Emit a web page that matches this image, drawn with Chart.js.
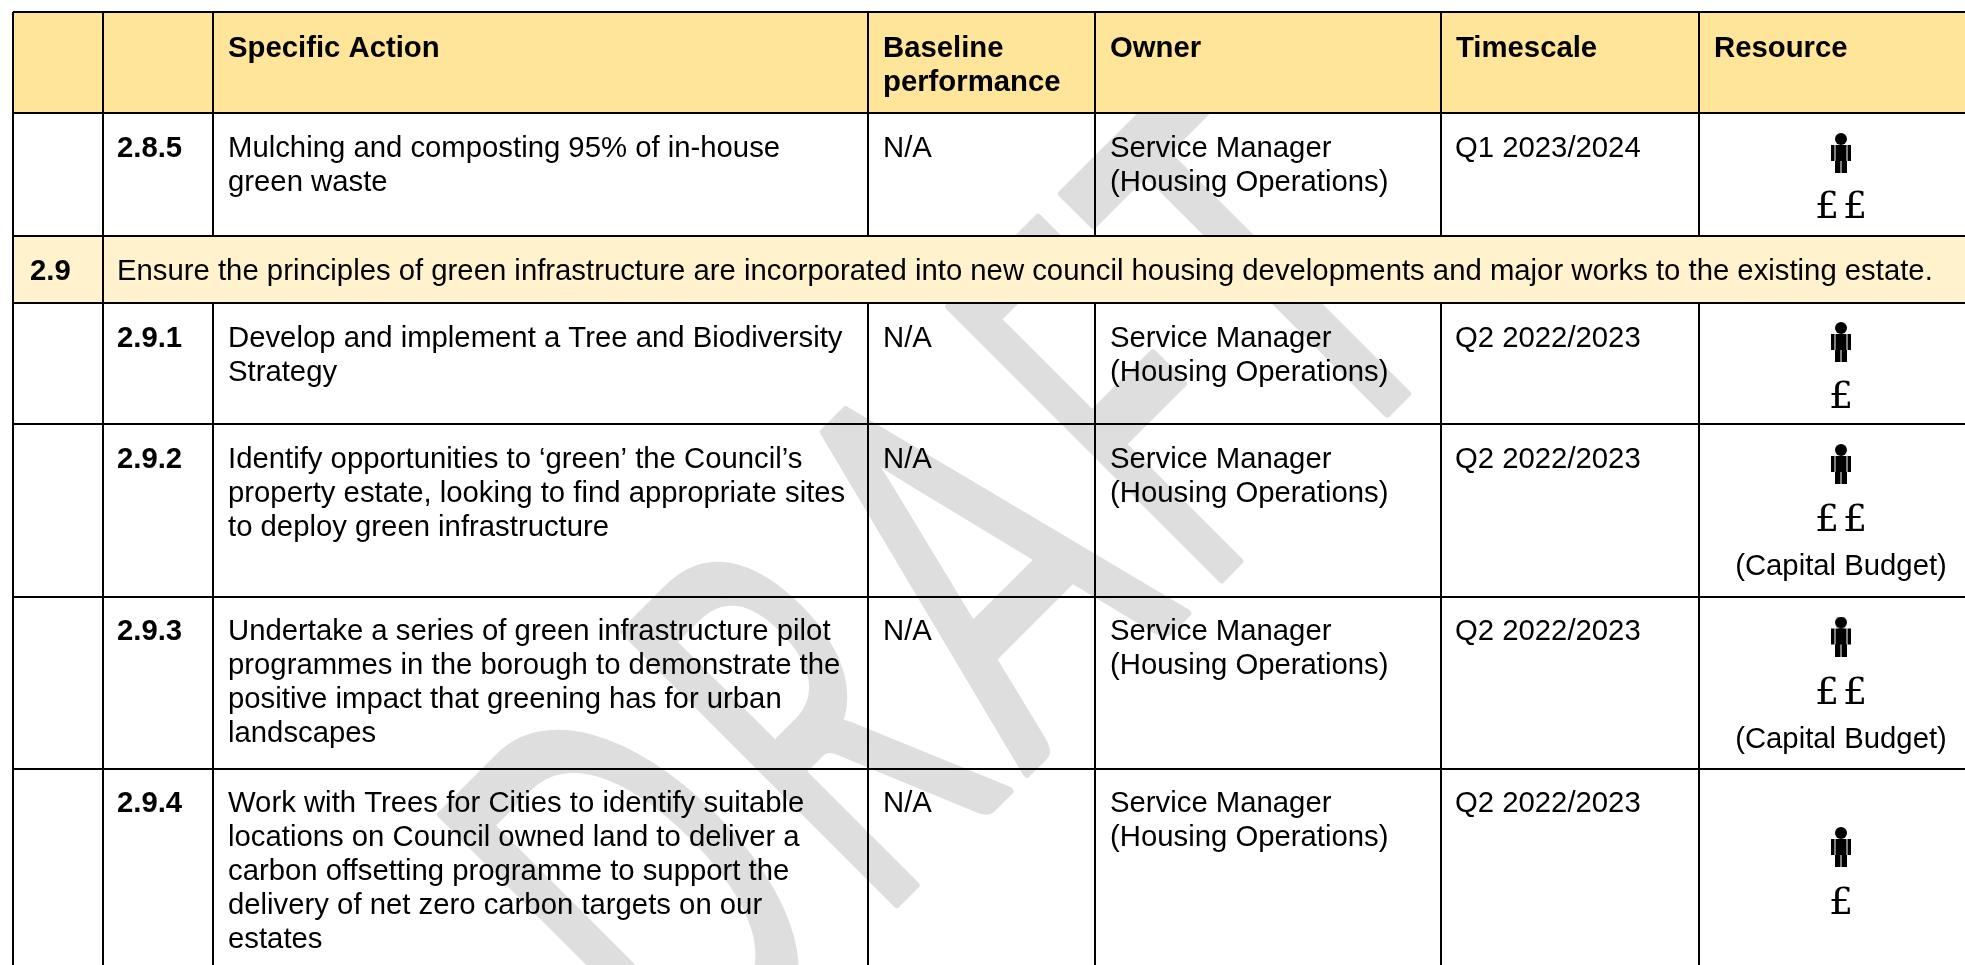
<!DOCTYPE html>
<html>
<head>
<meta charset="utf-8">
<style>
  body { margin: 0; background: #fff; }
  canvas { display: block; }
</style>
<script src="https://cdn.jsdelivr.net/npm/chart.js@4"></script>
</head>
<body>
<canvas id="myChart" width="1965" height="965"></canvas>
<script>
// table grid
const colEdges = [13, 103, 213, 868, 1095, 1441, 1699];
const rowEdges = [12, 113, 236, 303, 424, 597, 769];
const sectionRow = [236, 303];

// cells
const headers = ["Specific Action", "Baseline\nperformance", "Owner", "Timescale", "Resource"];
const headerCols = [2, 3, 4, 5, 6];
const sectionNo = "2.9";
const sectionText = "Ensure the principles of green infrastructure are incorporated into new council housing developments and major works to the existing estate.";
const actionNos = ["2.8.5", "2.9.1", "2.9.2", "2.9.3", "2.9.4"];
const actionTextY = [157, 347, 468, 640, 812];
const actions = [
  "Mulching and composting 95% of in-house\ngreen waste",
  "Develop and implement a Tree and Biodiversity\nStrategy",
  "Identify opportunities to ‘green’ the Council’s\nproperty estate, looking to find appropriate sites\nto deploy green infrastructure",
  "Undertake a series of green infrastructure pilot\nprogrammes in the borough to demonstrate the\npositive impact that greening has for urban\nlandscapes",
  "Work with Trees for Cities to identify suitable\nlocations on Council owned land to deliver a\ncarbon offsetting programme to support the\ndelivery of net zero carbon targets on our\nestates",
];
const baseline = ["N/A", "N/A", "N/A", "N/A", "N/A"];
const owners = Array(5).fill("Service Manager\n(Housing Operations)");
const timescales = ["Q1 2023/2024", "Q2 2022/2023", "Q2 2022/2023", "Q2 2022/2023", "Q2 2022/2023"];

// resource column
const resourceX = 1841;
const personY = [153, 342, 464, 636.5, 847];
const poundY = [218, 408, 531, 703.5, 914];
const poundCount = [2, 1, 2, 2, 1];
const budgetY = [null, null, 575, 747.5, null];
const budgetText = "(Capital Budget)";

// watermark letters, placed along the diagonal from the foot of the F
const markLetters = ["D", "R", "A", "F", "T"];
const markCentres = [-635, -392, -171, 52, 235];
const markWidths = [205, 173, 240, 142, 190];
const markOrigin = { x: 1232, y: 574 };

const bodyFont = '29.3px "Liberation Sans"';
const boldFont = 'bold 29.3px "Liberation Sans"';

function makePerson() {
  const c = document.createElement("canvas");
  c.width = 20;
  c.height = 40;
  const g = c.getContext("2d");
  g.fillStyle = "#000";
  g.beginPath();
  g.arc(10, 6, 6, 0, Math.PI * 2);
  g.fill();
  g.fillRect(0, 12, 3.5, 16);
  g.fillRect(4.5, 12, 11, 16);
  g.fillRect(16.5, 12, 3.5, 16);
  g.fillRect(4, 28, 5.5, 12);
  g.fillRect(10.5, 28, 5.5, 12);
  return c;
}

function band(y0, y1, color) {
  return {
    type: "line",
    order: 2,
    data: [{ x: colEdges[0], y: y0 }, { x: 1965, y: y0 }],
    borderWidth: 0,
    pointRadius: 0,
    backgroundColor: color,
    fill: { value: y1 },
  };
}

function rule(points) {
  return {
    type: "line",
    order: 1,
    data: points,
    borderColor: "#000",
    borderWidth: 2,
    pointRadius: 0,
    fill: false,
  };
}

const datasets = [
  band(rowEdges[0], rowEdges[1], "#FFE599"),
  band(sectionRow[0], sectionRow[1], "#FFF2CC"),
];
rowEdges.forEach((y) => datasets.push(rule([{ x: colEdges[0], y: y }, { x: 1965, y: y }])));
colEdges.forEach((x, i) => {
  if (i < 2) {
    datasets.push(rule([{ x: x, y: rowEdges[0] }, { x: x, y: 965 }]));
  } else {
    datasets.push(rule([{ x: x, y: rowEdges[0] }, { x: x, y: sectionRow[0] }]));
    datasets.push(rule([{ x: x, y: sectionRow[1] }, { x: x, y: 965 }]));
  }
});
datasets.push({
  type: "scatter",
  order: 0,
  data: personY.map((y) => ({ x: resourceX, y: y })),
  pointStyle: makePerson(),
  pointRadius: 10,
  showLine: false,
});

function lines(ctx, text, x, y) {
  text.split("\n").forEach((t, i) => ctx.fillText(t, x, y + i * 34));
}

const watermarkPlugin = {
  id: "watermark",
  beforeDatasetsDraw(chart) {
    const { ctx, scales } = chart;
    ctx.save();
    ctx.translate(scales.x.getPixelForValue(markOrigin.x), scales.y.getPixelForValue(markOrigin.y));
    ctx.rotate((-45 * Math.PI) / 180);
    ctx.font = '537px Lato';
    ctx.fillStyle = "#dedede";
    ctx.strokeStyle = "#dedede";
    ctx.lineWidth = 8;
    ctx.lineJoin = "round";
    markLetters.forEach((letter, i) => {
      const m = ctx.measureText(letter);
      const ink = m.actualBoundingBoxRight + m.actualBoundingBoxLeft;
      const sx = (markWidths[i] - 5) / ink;
      ctx.save();
      ctx.translate(markCentres[i], -4);
      ctx.scale(sx, 1);
      const x0 = -(m.actualBoundingBoxRight - m.actualBoundingBoxLeft) / 2;
      ctx.fillText(letter, x0, 0);
      ctx.strokeText(letter, x0, 0);
      ctx.restore();
    });
    ctx.restore();
  },
};

const cellTextPlugin = {
  id: "cellText",
  afterDatasetsDraw(chart) {
    const { ctx, scales } = chart;
    const px = (v) => scales.x.getPixelForValue(v);
    const py = (v) => scales.y.getPixelForValue(v);
    const pad = 15;
    ctx.save();
    ctx.fillStyle = "#000";
    ctx.textBaseline = "alphabetic";
    ctx.textAlign = "left";

    ctx.font = boldFont;
    headers.forEach((h, i) => {
      lines(ctx, h, px(colEdges[headerCols[i]] + pad), py(rowEdges[0] + 44.5));
    });
    ctx.fillText(sectionNo, px(colEdges[0] + pad + 2), py(sectionRow[0] + 43.5));
    actionNos.forEach((n, i) => {
      ctx.fillText(n, px(colEdges[1] + 14), py(actionTextY[i]));
    });

    ctx.font = bodyFont;
    ctx.fillText(sectionText, px(colEdges[1] + 14), py(sectionRow[0] + 43.5));
    actionTextY.forEach((rowY, i) => {
      const y = py(rowY);
      lines(ctx, actions[i], px(colEdges[2] + pad), y);
      lines(ctx, baseline[i], px(colEdges[3] + pad), y);
      lines(ctx, owners[i], px(colEdges[4] + pad), y);
      lines(ctx, timescales[i], px(colEdges[5] + pad - 1), y);
    });

    ctx.textAlign = "center";
    ctx.font = '38px "DejaVu Serif"';
    poundCount.forEach((n, i) => {
      if (n === 1) {
        ctx.fillText("£", px(resourceX), py(poundY[i]));
      } else {
        ctx.fillText("£", px(resourceX - 14), py(poundY[i]));
        ctx.fillText("£", px(resourceX + 14), py(poundY[i]));
      }
    });
    ctx.font = bodyFont;
    budgetY.forEach((y) => {
      if (y !== null) ctx.fillText(budgetText, px(resourceX), py(y));
    });
    ctx.restore();
  },
};

new Chart(document.getElementById("myChart"), {
  data: { datasets: datasets },
  options: {
    responsive: false,
    animation: false,
    layout: { padding: 0, autoPadding: false },
    plugins: { legend: { display: false }, tooltip: { enabled: false } },
    scales: {
      x: { type: "linear", display: false, min: 0, max: 1965 },
      y: { type: "linear", display: false, min: 0, max: 965, reverse: true },
    },
  },
  plugins: [watermarkPlugin, cellTextPlugin],
});
</script>
</body>
</html>
